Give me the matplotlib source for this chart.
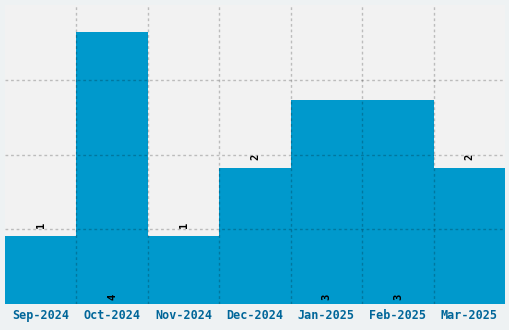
import matplotlib
matplotlib.use("Agg")
import matplotlib.pyplot as plt
import numpy as np

months = ["Sep-2024", "Oct-2024", "Nov-2024", "Dec-2024", "Jan-2025", "Feb-2025", "Mar-2025"]
counts = [1, 4, 1, 2, 3, 3, 2]

fig = plt.figure(figsize=(5.1, 3.3), dpi=100, facecolor="#eef2f3")
ax = fig.add_axes([5 / 510, 26 / 330, 500 / 510, 299 / 330])
ax.set_facecolor("#f2f2f2")

x = np.arange(len(months))
ax.bar(x, counts, width=1.0, color="#0099cc", zorder=1)

ymax = 4.4
ax.set_xlim(-0.5, len(months) - 0.5)
ax.set_ylim(0, ymax)

# grid on bar edges and at quarter heights, drawn over the bars
ax.set_xticks(x[:-1] + 0.5, minor=True)
ax.set_yticks(np.arange(1, 4) * ymax / 4)
ax.grid(True, which="minor", axis="x", color="black", alpha=0.22,
        linestyle=(0, (2, 2)), linewidth=1, zorder=3)
ax.grid(True, which="major", axis="y", color="black", alpha=0.22,
        linestyle=(0, (2, 2)), linewidth=1, zorder=3)
ax.set_axisbelow(False)

ax.set_xticks(x)
ax.set_xticklabels(months, fontfamily="DejaVu Sans Mono", fontweight="bold",
                   fontsize=8.5, color="#006699")
ax.tick_params(axis="x", which="both", length=0, pad=3.5)
ax.tick_params(axis="y", length=0, labelleft=False)
for s in ax.spines.values():
    s.set_visible(False)

for xi, c in zip(x, counts):
    if c <= 2:
        ax.annotate(str(c), (xi, c), xytext=(0, 5.5), textcoords="offset points",
                    rotation=90, ha="center", va="bottom", fontsize=7.5,
                    fontfamily="DejaVu Sans Mono", fontweight="bold", color="black")
    else:
        ax.annotate(str(c), (xi, 0), xytext=(0, 3), textcoords="offset points",
                    rotation=90, ha="center", va="bottom", fontsize=7.5,
                    fontfamily="DejaVu Sans Mono", fontweight="bold", color="black")

fig.savefig("out.png", dpi=100, facecolor=fig.get_facecolor())
